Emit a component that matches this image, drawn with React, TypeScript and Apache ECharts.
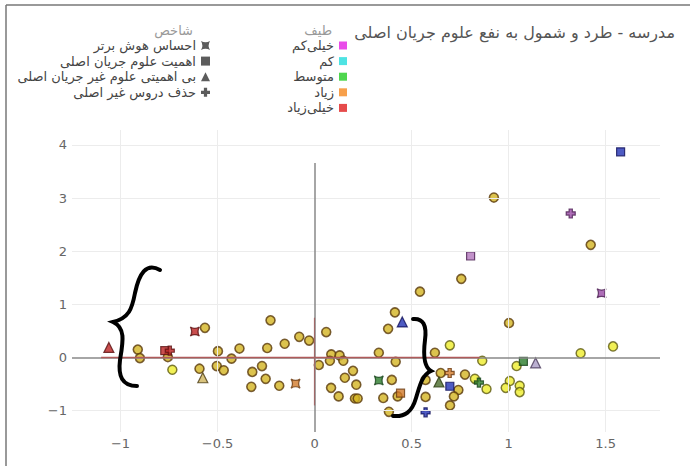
import React, { useEffect, useRef } from 'react';
import * as echarts from 'echarts';

const FONT = '"DejaVu Sans", "Noto Sans", sans-serif';

const titleText = 'مدرسه - طرد و شمول به نفع علوم جریان اصلی';
const spectrumTitle = 'طیف';
const indicatorTitle = 'شاخص';

const xTicks = [-1, -0.5, 0, 0.5, 1, 1.5];
const yTicks = [-1, 0, 1, 2, 3, 4];

const spectrumNames = ['خیلی‌کم', 'کم', 'متوسط', 'زیاد', 'خیلی‌زیاد'];
const spectrumColors = ['#e31ee3', '#22dcdc', '#22cc22', '#f5881e', '#e01e1e'];

const indicatorNames = [
  'احساس هوش برتر',
  'اهمیت علوم جریان اصلی',
  'بی اهمیتی علوم غیر جریان اصلی',
  'حذف دروس غیر اصلی',
];

// plain circles (no indicator)
const darkCircles: [number, number][] = [
  [0.924, 3.01], [1.423, 2.12], [0.756, 1.48], [1.002, 0.65], [0.543, 1.24], [0.414, 0.85],
  [0.379, 0.54], [0.06, 0.48], [0.331, 0.09], [0.62, 0.09], [0.086, 0.06], [0.129, 0.04],
  [0.079, -0.06], [0.148, -0.06], [0.418, -0.08], [0.022, -0.14], [0.198, -0.25], [0.65, -0.29],
  [0.398, -0.42], [0.156, -0.38], [0.572, -0.42], [0.215, -0.51], [0.085, -0.57], [0.428, -0.73],
  [0.124, -0.73], [0.208, -0.77], [0.222, -0.77], [0.354, -0.76], [0.572, -0.74], [0.383, -1.02],
  [0.775, -0.32], [0.741, -0.61], [0.718, -0.73], [0.698, -0.9], [-0.911, 0.15], [-0.9, -0.01],
  [-0.756, 0.01], [-0.565, 0.56], [-0.593, -0.21], [-0.498, 0.12], [-0.504, -0.16], [-0.468, -0.24],
  [-0.428, -0.02], [-0.387, 0.17], [-0.321, -0.27], [-0.326, -0.55], [-0.271, -0.16], [-0.252, -0.4],
  [-0.244, 0.18], [-0.227, 0.7], [-0.182, -0.53], [-0.154, 0.26], [-0.079, 0.39], [-0.028, 0.32],
];
const brightCircles: [number, number][] = [
  [0.697, 0.23], [0.864, -0.06], [1.041, -0.16], [0.826, -0.4], [0.886, -0.59], [1.006, -0.44],
  [0.985, -0.57], [1.057, -0.53], [1.057, -0.65], [1.371, 0.08], [1.538, 0.21], [-0.733, -0.23],
];

// indicator markers: [x, y, group]
const starSquarePts: [number, number, string][] = [
  [1.479, 1.21, 'p'], [0.331, -0.43, 'g'], [-0.617, 0.49, 'r'], [-0.098, -0.49, 'o'],
];
const squarePts: [number, number, string][] = [
  [1.577, 3.87, 'b'], [0.804, 1.91, 'pl'], [0.443, -0.67, 'o'], [1.076, -0.07, 'g'],
  [0.697, -0.54, 'b'], [-0.772, 0.13, 'r'],
];
const trianglePts: [number, number, string][] = [
  [0.452, 0.67, 'b'], [0.641, -0.46, 'g2'], [1.139, -0.1, 'gp'], [-1.06, 0.19, 'r'], [-0.576, -0.38, 'ol'],
];
const crossPts: [number, number, string][] = [
  [1.32, 2.71, 'p'], [0.572, -1.03, 'b'], [0.696, -0.29, 'o'], [0.847, -0.47, 'g'], [-0.746, 0.13, 'r'],
];

const groupFill: Record<string, string> = {
  p: '#9a4aa6', pl: '#b377bd', b: '#2232b4', g: '#2a7c2a', g2: '#4a6a2a', o: '#d27a2a',
  r: '#bb2222', gp: '#aa9cc6', ol: '#cfb45c',
};
const groupBorder: Record<string, string> = {
  p: '#4a1e50', pl: '#4a1e50', b: '#10105a', g: '#17421a', g2: '#2a3a10', o: '#6a3a10',
  r: '#5a1010', gp: '#4a3a5a', ol: '#4a3a10',
};

const CROSS = 'path://M3.2,0H6.8V3.2H10V6.8H6.8V10H3.2V6.8H0V3.2H3.2Z';
const STARSQ = 'path://M0,0Q5,3 10,0Q7,5 10,10Q5,7 0,10Q3,5 0,0Z';
const indicatorIcons = [STARSQ, 'rect', 'triangle', CROSS];

const braceLeft =
  'M160 270 C146 262 139 274 135 293 C132 309 129 318 113 322 C126 328 123 342 120 360 C118 376 122 386 137 386';
const braceRight =
  'M413 319 C423 318 427 325 425 340 C423 356 424 367 431 371 C422 375 420 385 416 398 C412 412 405 417 393 416';

echarts.graphic.registerShape('braceL', echarts.graphic.extendPath(braceLeft, {}));
echarts.graphic.registerShape('braceR', echarts.graphic.extendPath(braceRight, {}));

const near = (v: number, arr: number[]) => arr.find((t) => Math.abs(t - v) < 1e-6);
const fmt = (arr: number[]) => (v: number) => {
  const t = near(v, arr);
  if (t === undefined) return '';
  return t < 0 ? '\u2212' + Math.abs(t) : String(t);
};

const mk = (pts: [number, number, string][]) =>
  pts.map(([x, y, g]) => ({
    value: [x, y],
    itemStyle: { color: groupFill[g], borderColor: groupBorder[g], borderWidth: 1.2 },
  }));

export default function App() {
  const ref = useRef<HTMLDivElement>(null);
  useEffect(() => {
    if (!ref.current) return;
    const chart = echarts.init(ref.current, null, { renderer: 'svg' });
    const xGrid = xTicks.filter((v) => v !== 0);
    const yGrid = yTicks.filter((v) => v !== 0);
    const legendText = { fontSize: 13, color: '#444', fontFamily: FONT, lineHeight: 15 };
    chart.setOption({
      animation: false,
      backgroundColor: '#ffffff',
      title: {
        text: titleText,
        right: 15,
        top: 24,
        padding: 0,
        textStyle: { fontSize: 16, fontWeight: 'normal', color: '#555', fontFamily: FONT },
      },
      legend: [
        {
          orient: 'vertical',
          right: 343,
          top: 38,
          padding: 0,
          align: 'right',
          itemWidth: 8,
          itemHeight: 8,
          itemGap: 0.6,
          selectedMode: false,
          textStyle: legendText,
          data: spectrumNames.map((n, i) => ({
            name: n,
            icon: 'rect',
            itemStyle: { color: spectrumColors[i], borderWidth: 0 },
          })),
        },
        {
          orient: 'vertical',
          right: 480,
          top: 38,
          padding: 0,
          align: 'right',
          itemWidth: 9,
          itemHeight: 9,
          itemGap: 0.6,
          selectedMode: false,
          textStyle: legendText,
          data: indicatorNames.map((n, i) => ({
            name: n,
            icon: indicatorIcons[i],
            itemStyle: { color: '#333', borderWidth: 0 },
          })),
        },
      ],
      grid: { left: 72, right: 30, top: 130, bottom: 34, containLabel: false },
      xAxis: {
        type: 'value',
        min: -1.25,
        max: 1.78,
        interval: 0.25,
        axisLine: { show: false },
        axisTick: { show: false },
        splitLine: { show: false },
        axisLabel: { formatter: fmt(xTicks), color: '#666', fontSize: 13, margin: 5, fontFamily: FONT },
      },
      yAxis: {
        type: 'value',
        min: -1.4,
        max: 4.28,
        interval: 0.2,
        axisLine: { show: false },
        axisTick: { show: false },
        splitLine: { show: false },
        axisLabel: { formatter: fmt(yTicks), color: '#666', fontSize: 13, margin: 5, fontFamily: FONT },
      },
      graphic: [
        { type: 'line', shape: { x1: 6, y1: 5, x2: 6, y2: 466 }, style: { stroke: '#777', lineWidth: 1.5 } },
        { type: 'line', shape: { x1: 6, y1: 5, x2: 690, y2: 5 }, style: { stroke: '#777', lineWidth: 1.5 } },
        {
          type: 'text',
          x: 332,
          y: 30,
          style: { text: spectrumTitle, textAlign: 'right', textVerticalAlign: 'middle', fill: '#999', font: `13px ${FONT}` },
        },
        {
          type: 'text',
          x: 193,
          y: 30,
          style: { text: indicatorTitle, textAlign: 'right', textVerticalAlign: 'middle', fill: '#999', font: `13px ${FONT}` },
        },
        { type: 'braceL', x: 0, y: 0, z: 100, style: { fill: 'none', stroke: '#000', lineWidth: 4, lineCap: 'round' } },
        { type: 'braceR', x: 0, y: 0, z: 100, style: { fill: 'none', stroke: '#000', lineWidth: 4, lineCap: 'round' } },
      ],
      series: [
        {
          type: 'scatter',
          name: 'grid',
          data: [],
          silent: true,
          markLine: {
            silent: true,
            symbol: 'none',
            label: { show: false },
            lineStyle: { color: '#ececec', width: 1, type: 'solid' },
            data: [
              ...xGrid.map((v) => ({ xAxis: v })),
              ...yGrid.map((v) => ({ yAxis: v })),
            ],
          },
        },
        {
          type: 'scatter',
          name: 'zero',
          data: [],
          silent: true,
          markLine: {
            silent: true,
            symbol: 'none',
            label: { show: false },
            data: [
              [
                { coord: [-1.25, 0], lineStyle: { color: '#888', width: 1.5, type: 'solid' } },
                { coord: [1.78, 0] },
              ],
              [
                { coord: [0, 3.66], lineStyle: { color: '#888', width: 1.5, type: 'solid' } },
                { coord: [0, -1.4] },
              ],
              [
                { coord: [-1.1, 0], lineStyle: { color: '#b05a5a', width: 1.3, type: 'solid' } },
                { coord: [0.85, 0] },
              ],
              [
                { coord: [0, 0.75], lineStyle: { color: '#a06868', width: 1.2, type: 'solid' } },
                { coord: [0, -0.9] },
              ],
            ],
          },
        },
        ...spectrumNames.map((n, i) => ({
          type: 'scatter',
          name: n,
          data: [],
          itemStyle: { color: spectrumColors[i] },
        })),
        {
          type: 'scatter',
          name: 'dark',
          symbol: 'circle',
          symbolSize: 9,
          data: darkCircles,
          itemStyle: { color: '#d3b422', borderColor: '#5a3a0c', borderWidth: 1.6 },
        },
        {
          type: 'scatter',
          name: 'bright',
          symbol: 'circle',
          symbolSize: 9,
          data: brightCircles,
          itemStyle: { color: '#eeec2c', borderColor: '#5e5a10', borderWidth: 1.5 },
        },
        { type: 'scatter', name: indicatorNames[0], symbol: STARSQ, symbolSize: 9, data: mk(starSquarePts) },
        { type: 'scatter', name: indicatorNames[1], symbol: 'rect', symbolSize: 8, data: mk(squarePts) },
        { type: 'scatter', name: indicatorNames[2], symbol: 'triangle', symbolSize: 10, data: mk(trianglePts) },
        { type: 'scatter', name: indicatorNames[3], symbol: CROSS, symbolSize: 9, data: mk(crossPts) },
      ],
    });
    return () => chart.dispose();
  }, []);
  return (
    <div
      ref={ref}
      style={{ position: 'fixed', left: 0, top: 0, width: 690, height: 466, background: '#fff' }}
    />
  );
}
